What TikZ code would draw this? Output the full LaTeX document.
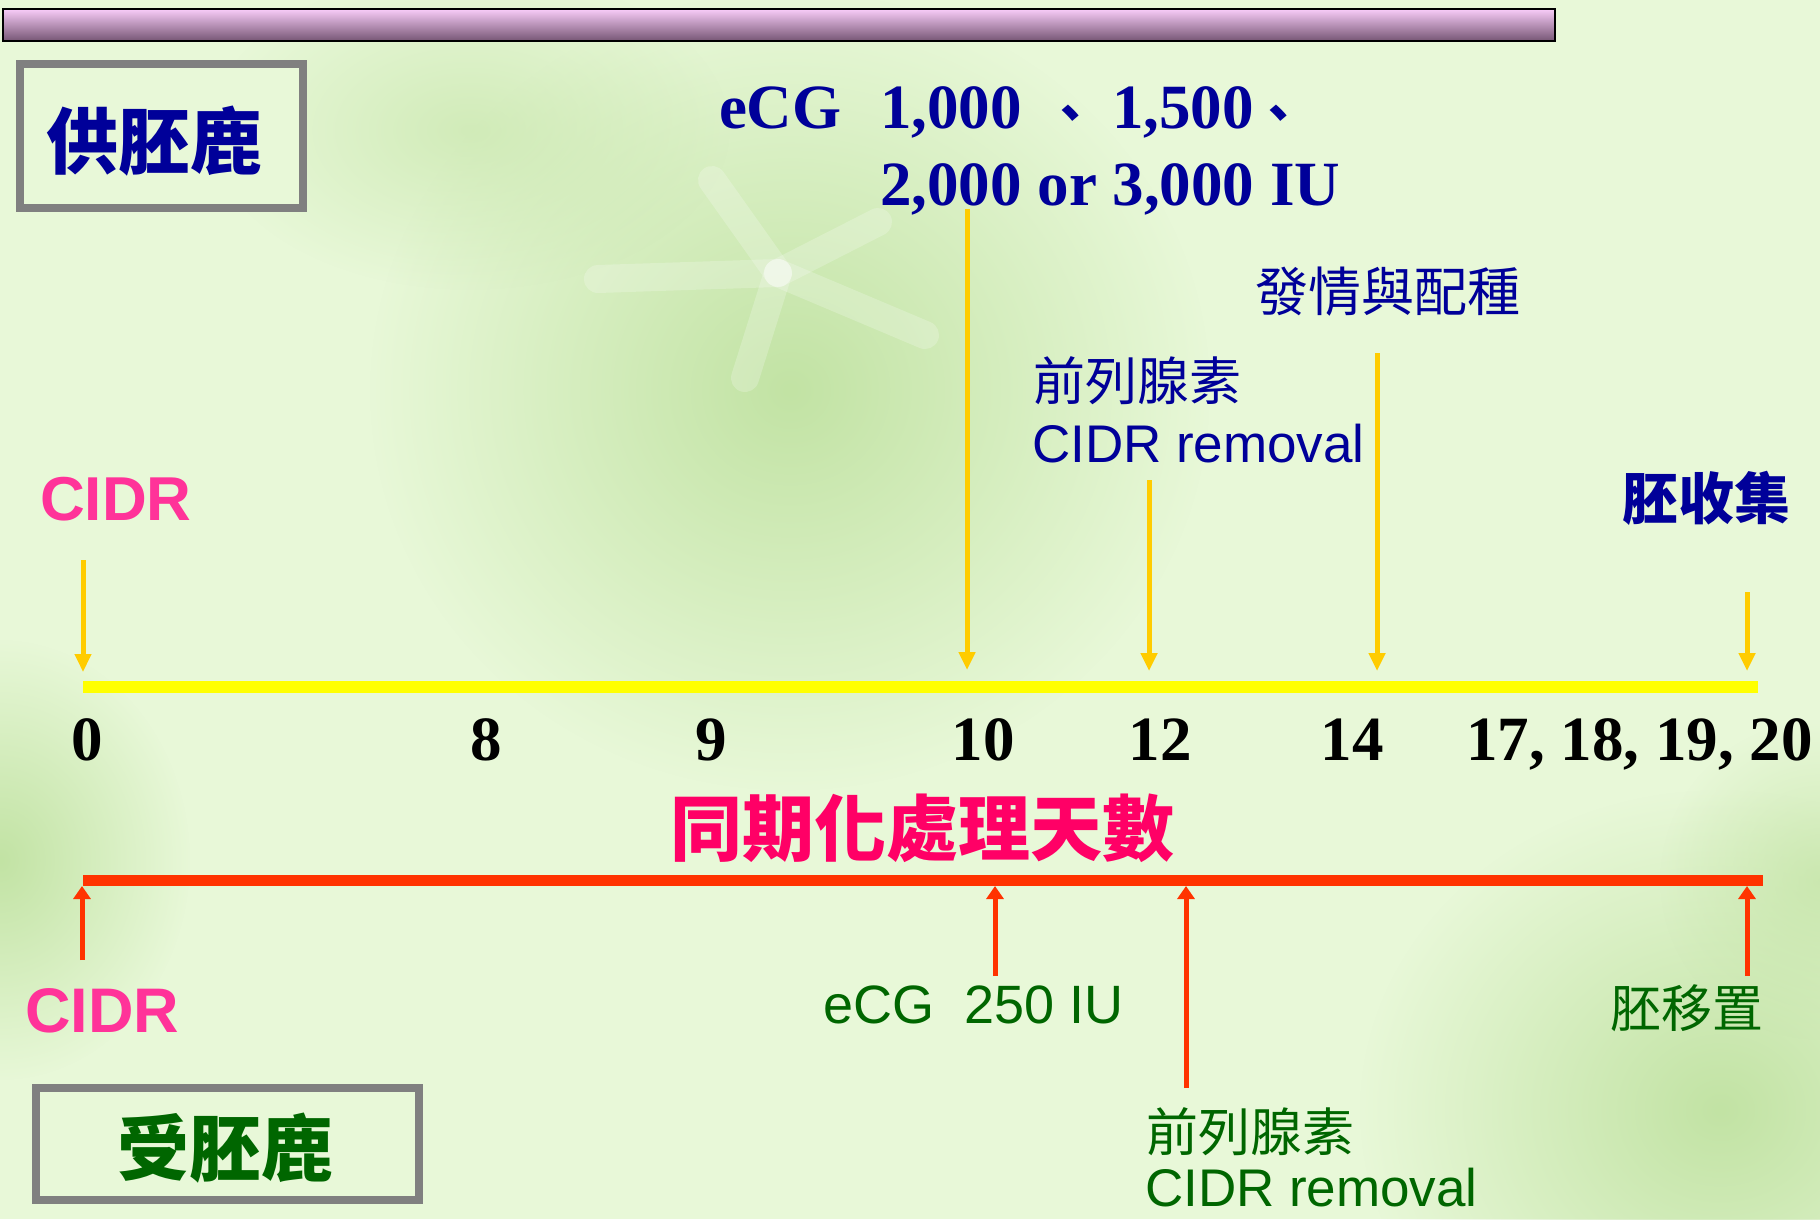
\documentclass[tikz,border=0pt]{standalone}
\usepackage{fontspec}
\setmainfont{Liberation Serif}
\setsansfont{Liberation Sans}
\newfontfamily\cjk{Noto Sans CJK TC}
\usetikzlibrary{arrows.meta,fadings}
\tikzfading[name=myfade, inner color=transparent!0, outer color=transparent!100]
\definecolor{bgc}{HTML}{E8F8D8}
\definecolor{blobc}{HTML}{C2E3A4}
\definecolor{navy}{HTML}{000099}
\definecolor{pinkc}{HTML}{FF3399}
\definecolor{magc}{HTML}{FF0066}
\definecolor{greenc}{HTML}{006600}
\definecolor{goldc}{HTML}{FFCC00}
\definecolor{yelc}{HTML}{FFFF00}
\definecolor{redc}{HTML}{FF3300}
\definecolor{grayb}{HTML}{808080}
\definecolor{bartop}{HTML}{F8CCF8}
\definecolor{barmid}{HTML}{E2B2E0}
\definecolor{barbot}{HTML}{765674}
\newcommand\myfs[1]{\fontsize{#1pt}{#1pt}\selectfont}
\begin{document}
\begin{tikzpicture}[x=1pt,y=-1pt,
  lbl/.style={inner sep=0pt, outer sep=0pt},
  num/.style={lbl, font=\rmfamily\bfseries\myfs{63}, text=black},
  topnum/.style={lbl, font=\rmfamily\bfseries\myfs{63}, text=navy},
  ydown/.style={goldc, line width=5pt, -{Triangle[length=18pt,width=16pt]}},
  rup/.style={redc, line width=5pt, -{Triangle[length=13pt,width=17pt]}},
  grbox/.style={draw=grayb, line width=8pt, fill=bgc, inner sep=0pt},
  blob/.style={fill=blobc, path fading=myfade},
  petal/.style={white, opacity=0.22, line width=28pt, line cap=round}
]
\useasboundingbox (0,0) rectangle (1820,1219);
% background
\fill[bgc] (0,0) rectangle (1820,1219);
\fill[blob] (790,390) ellipse (420pt and 400pt);
\fill[blob, opacity=0.6] (470,130) ellipse (260pt and 160pt);
\fill[blob] (0,860) ellipse (190pt and 220pt);
\fill[blob] (1720,1110) ellipse (360pt and 320pt);
\fill[blob, opacity=0.7] (1820,880) ellipse (160pt and 160pt);
% faint flower
\coordinate (fc) at (778,273);
\draw[petal] (fc) -- (712,180);
\draw[petal] (fc) -- (878,222);
\draw[petal] (fc) -- (598,279);
\draw[petal] (fc) -- (925,335);
\draw[petal] (fc) -- (745,378);

% title bar
\shade[top color=bartop, middle color=barmid, bottom color=barbot] (3,9) rectangle (1555,41);
\draw[black, line width=2pt] (3,9) rectangle (1555,41);

% boxes
\node[grbox, minimum width=283pt, minimum height=144pt] (donorbox) at (161.5,136) {};
\node[lbl, font=\cjk\bfseries\myfs{72}, text=navy] (donor) at (154,141) {供胚鹿};
\node[grbox, minimum width=383pt, minimum height=112pt] (recbox) at (227.5,1144) {};
\node[lbl, font=\cjk\bfseries\myfs{72}, text=greenc] (recip) at (225,1148) {受胚鹿};

% donor texts
\node[topnum, anchor=base west] (ecga) at (719,128) {eCG};
\node[topnum, anchor=base west] (d1000) at (880,128) {1,000};
\node[lbl, font=\cjk\bfseries\myfs{50}, text=navy, anchor=base west] (dun1) at (1045,131) {、};
\node[topnum, anchor=base west] (d1500) at (1112,128) {1,500};
\node[lbl, font=\cjk\bfseries\myfs{50}, text=navy, anchor=base west] (dun2) at (1253,131) {、};
\node[topnum, anchor=base west] (d2000) at (880,205) {2,000 or 3,000 IU};

\node[lbl, font=\cjk\myfs{53}, text=navy] (estrus) at (1388,292) {發情與配種};
\node[lbl, font=\cjk\myfs{52}, text=navy] (pgtop) at (1137,381) {前列腺素};
\node[lbl, font=\sffamily\myfs{53}, text=navy, anchor=base west] (remtop) at (1032,462) {CIDR removal};
\node[lbl, font=\cjk\bfseries\myfs{56}, text=navy] (collect) at (1706,498) {胚收集};
\node[lbl, font=\sffamily\bfseries\myfs{62}, text=pinkc, anchor=base west] (cidrtop) at (40,520) {CIDR};

% yellow timeline
\coordinate (yl) at (83,687);
\coordinate (yr) at (1758,687);
\draw[yelc, line width=12pt] (yl) -- (yr);

% yellow arrows
\coordinate (y0s) at (83,560);   \coordinate (y0e) at (83,672);
\coordinate (y10s) at (967,209); \coordinate (y10e) at (967,670);
\coordinate (y12s) at (1149,480);\coordinate (y12e) at (1149,671);
\coordinate (y14s) at (1377,353);\coordinate (y14e) at (1377,671);
\coordinate (y20s) at (1747,592);\coordinate (y20e) at (1747,671);
\draw[ydown] (y0s) -- (y0e);
\draw[ydown] (y10s) -- (y10e);
\draw[ydown] (y12s) -- (y12e);
\draw[ydown] (y14s) -- (y14e);
\draw[ydown] (y20s) -- (y20e);

% day numbers
\node[num, anchor=base] (n0) at (87,760) {0};
\node[num, anchor=base] (n8) at (486,760) {8};
\node[num, anchor=base] (n9) at (711,760) {9};
\node[num, anchor=base] (n10) at (983,760) {10};
\node[num, anchor=base] (n12) at (1160,760) {12};
\node[num, anchor=base] (n14) at (1352,760) {14};
\node[num, anchor=base west] (n17) at (1466,760) {17, 18, 19, 20};

\node[lbl, font=\cjk\bfseries\myfs{72}, text=magc] (days) at (922,828) {同期化處理天數};

% red timeline
\coordinate (rl) at (83,880.5);
\coordinate (rr) at (1763,880.5);
\draw[redc, line width=11pt] (rl) -- (rr);

% red arrows
\coordinate (r0s) at (82,960);    \coordinate (r0e) at (82,886);
\coordinate (r10s) at (995,976);  \coordinate (r10e) at (995,886);
\coordinate (r12s) at (1186,1088);\coordinate (r12e) at (1186,886);
\coordinate (r20s) at (1747,976); \coordinate (r20e) at (1747,886);
\draw[rup] (r0s) -- (r0e);
\draw[rup] (r10s) -- (r10e);
\draw[rup] (r12s) -- (r12e);
\draw[rup] (r20s) -- (r20e);

% recipient texts
\node[lbl, font=\sffamily\bfseries\myfs{63}, text=pinkc, anchor=base west] (cidrbot) at (25,1032) {CIDR};
\node[lbl, font=\sffamily\myfs{54}, text=greenc, anchor=base west] (ecgb) at (823,1023) {eCG\ \ 250 IU};
\node[lbl, font=\cjk\myfs{51}, text=greenc] (transfer) at (1687,1008) {胚移置};
\node[lbl, font=\cjk\myfs{52}, text=greenc] (pgbot) at (1250,1132) {前列腺素};
\node[lbl, font=\sffamily\myfs{53}, text=greenc, anchor=base west] (rembot) at (1145,1206) {CIDR removal};
\end{tikzpicture}
\end{document}
